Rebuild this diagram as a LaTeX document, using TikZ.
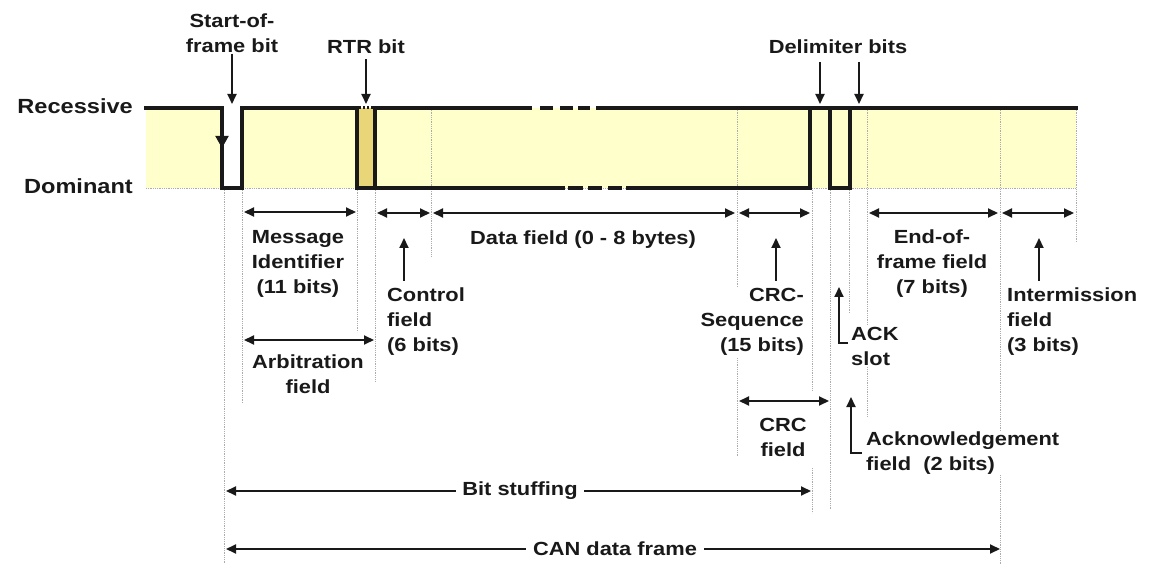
\documentclass[tikz,border=0pt]{standalone}
\usepackage{fontspec}
\setmainfont{Liberation Sans}[FakeStretch=1.15]
\usetikzlibrary{arrows.meta}
\definecolor{band}{RGB}{255,255,204}
\definecolor{rtr}{RGB}{232,214,120}
\definecolor{ink}{RGB}{25,25,25}
\tikzset{
  sig/.style={line width=3.3pt, ink, line join=miter, line cap=rect},
  guide/.style={gray!65, line width=0.8pt, densely dotted},
  dim/.style={line width=2pt, ink, {Triangle[length=10pt,width=9pt]}-{Triangle[length=10pt,width=9pt]}},
  ptr/.style={line width=2pt, ink, -{Triangle[length=10pt,width=9pt]}},
  lbl/.style={font=\fontsize{19}{25}\selectfont\bfseries, text=ink, inner sep=1pt, fill=white},
  lbln/.style={font=\fontsize{19}{25}\selectfont\bfseries, text=ink, inner sep=1pt},
  lvl/.style={font=\fontsize{20.5}{25}\selectfont\bfseries, text=ink, inner sep=1pt},
}
\begin{document}
\begin{tikzpicture}[x=1pt,y=-1pt]
\useasboundingbox (0,0) rectangle (1152,564);
% band
\fill[band] (146,108) rectangle (1076,188);
\fill[white] (224,108) rectangle (242,188);
\fill[rtr] (357,108) rectangle (375,188);
\draw[guide] (146,188) -- (1076,188);
% guide lines
\draw[guide] (224,188) -- (224,564);
\draw[guide] (242,188) -- (242,403);
\draw[guide] (357,188) -- (357,332);
\draw[guide] (375,188) -- (375,382);
\draw[guide] (431,108) -- (431,257);
\draw[guide] (737,108) -- (737,457);
\draw[guide] (812,188) -- (812,390);
\draw[guide] (812,468) -- (812,513);
\draw[guide] (830,188) -- (830,510);
\draw[guide] (849,188) -- (849,313);
\draw[guide] (867,108) -- (867,417);
\draw[guide] (1000,108) -- (1000,564);
\draw[guide] (1076,108) -- (1076,242);
% signal
\draw[sig] (146,108) -- (222,108) -- (222,188) -- (242,188) -- (242,108) -- (357,108) -- (357,188) -- (375,188) -- (375,108) -- (530,108);
\draw[sig] (598,108) -- (1076,108);
\draw[sig] (375,188) -- (563,188);
\draw[sig] (628,188) -- (810,188) -- (810,108);
\draw[sig] (830,108) -- (830,188) -- (850,188) -- (850,108);
\draw[line width=3pt, ink, dash pattern=on 2pt off 2pt] (359,108) -- (374,108);
\foreach \a/\b in {540/553,560/573,578/590} \draw[line width=3.3pt, ink] (\a,108) -- (\b,108);
\foreach \a/\b in {568/583,588/602,608/622} \draw[line width=3.3pt, ink] (\a,188) -- (\b,188);
\coordinate (sofa) at (222,108);
\coordinate (sofb) at (222,148);
\draw[line width=2pt, ink, -{Triangle[length=12pt,width=13pt]}] (sofa) -- (sofb);
% top labels and pointers
\node[lbln, align=center] (sof) at (232,33) {Start-of-\\frame bit};
\node[lbln] (rtrl) at (366,47) {RTR bit};
\node[lbln] (del) at (838,47) {Delimiter bits};
\coordinate (sofp) at (232,104);
\coordinate (rtrp) at (366,104);
\coordinate (d1s) at (820,62);
\coordinate (d1) at (820,104);
\coordinate (d2s) at (859,62);
\coordinate (d2) at (859,104);
\draw[ptr] (sof.south -| sofp) -- (sofp);
\draw[ptr] (rtrl.south) ++(0,4) -- (rtrp);
\draw[ptr] (d1s) -- (d1);
\draw[ptr] (d2s) -- (d2);
\node[lvl, anchor=east] (rec) at (134,106) {Recessive};
\node[lvl, anchor=east] (dom) at (134,186) {Dominant};
% dimension arrows
\coordinate (mi1) at (244,212); \coordinate (mi2) at (356,212);
\coordinate (cf1) at (377,213); \coordinate (cf2) at (430,213);
\coordinate (df1) at (433,213); \coordinate (df2) at (735,213);
\coordinate (cs1) at (739,213); \coordinate (cs2) at (810,213);
\coordinate (ef1) at (869,213); \coordinate (ef2) at (998,213);
\coordinate (im1) at (1002,213); \coordinate (im2) at (1074,213);
\coordinate (ar1) at (244,340); \coordinate (ar2) at (374,340);
\coordinate (cr1) at (739,401); \coordinate (cr2) at (829,401);
\coordinate (bs1) at (226,491); \coordinate (bs2) at (811,491);
\coordinate (cd1) at (226,549); \coordinate (cd2) at (1000,549);
\draw[dim] (mi1) -- (mi2);
\draw[dim] (cf1) -- (cf2);
\draw[dim] (df1) -- (df2);
\draw[dim] (cs1) -- (cs2);
\draw[dim] (ef1) -- (ef2);
\draw[dim] (im1) -- (im2);
\draw[dim] (ar1) -- (ar2);
\draw[dim] (cr1) -- (cr2);
\draw[dim] (bs1) -- (bs2);
\draw[dim] (cd1) -- (cd2);
% pointers up
\coordinate (cp1) at (404,281); \coordinate (cp2) at (404,238);
\coordinate (sp1) at (776,281); \coordinate (sp2) at (776,238);
\coordinate (ip1) at (1039,281); \coordinate (ip2) at (1039,238);
\draw[ptr] (cp1) -- (cp2);
\draw[ptr] (sp1) -- (sp2);
\draw[ptr] (ip1) -- (ip2);
\coordinate (ak0) at (848,343); \coordinate (ak1) at (839,343); \coordinate (ak2) at (839,287);
\coordinate (ac0) at (862,453); \coordinate (ac1) at (851,453); \coordinate (ac2) at (851,397);
\draw[ptr, line join=miter] (ak0) -- (ak1) -- (ak2);
\draw[ptr, line join=miter] (ac0) -- (ac1) -- (ac2);
% labels
\node[lbl, align=center] (mid) at (298,264) {Message\\Identifier\\(11 bits)};
\node[lbl, align=left, anchor=west] (ctl) at (386,322) {Control\\field\\(6 bits)};
\node[lbl, align=center] (arb) at (308,374) {Arbitration\\field};
\node[lbl] (dat) at (583,240) {Data field (0 - 8 bytes)};
\node[lbl, align=right, anchor=east] (crcs) at (805,322) {CRC-\\Sequence\\(15 bits)};
\node[lbl, align=left, anchor=west] (ack) at (850,346) {ACK\\slot};
\node[lbl, align=center] (eof) at (932,264) {End-of-\\frame field\\(7 bits)};
\node[lbl, align=left, anchor=west] (ims) at (1006,322) {Intermission\\field\\(3 bits)};
\node[lbl, align=center] (crcf) at (783,437) {CRC\\field};
\node[lbl, align=left, anchor=west] (ackf) at (865,453) {Acknowledgement\\field\ \ (2 bits)};
\node[lbl, inner xsep=6pt] (bst) at (520,491) {Bit stuffing};
\node[lbl, inner xsep=7pt] (can) at (615,549) {CAN data frame};
\end{tikzpicture}
\end{document}
